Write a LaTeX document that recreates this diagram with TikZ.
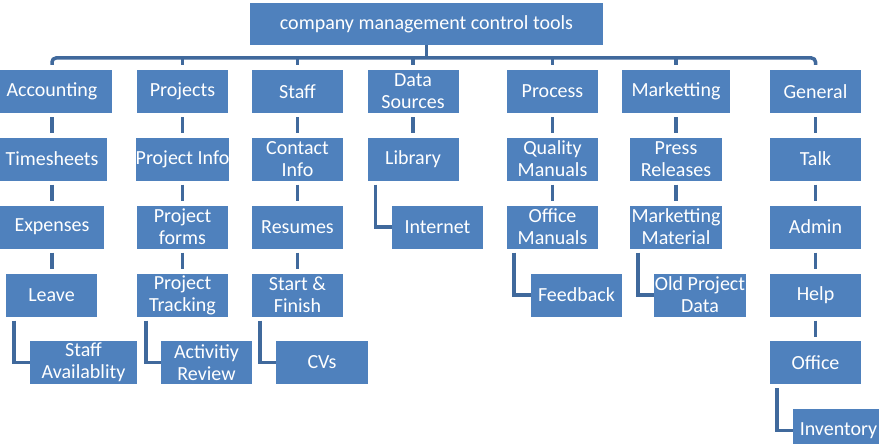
\documentclass[tikz,border=0pt]{standalone}
\usepackage{fontspec}
\setmainfont{Carlito}
\definecolor{boxblue}{HTML}{4F81BD}
\definecolor{lineblue}{HTML}{40699C}
\tikzset{
  box/.style={fill=boxblue, text=white, align=center, inner sep=0pt,
    minimum width=91, minimum height=43,
    font=\fontsize{20}{22}\selectfont},
  link/.style={draw=lineblue, line width=3.5pt}
}
\begin{document}
\begin{tikzpicture}[x=1pt, y=1pt]
  \useasboundingbox (0,0) rectangle (879,-444);
  \clip (0,0) rectangle (879,-444);
  \coordinate (bus) at (0,-58);
  \node[box, minimum width=353, minimum height=42] (top) at (426.5,-24) {company management control tools};
  % first level
  \node[box, minimum width=120] (acc) at (52,-91.5) {Accounting};
  \node[box] (proj) at (182.5,-91.5) {Projects};
  \node[box] (staff) at (297.5,-91.5) {Staff};
  \node[box] (data) at (413,-91.5) {Data\\Sources};
  \node[box] (proc) at (552.5,-91.5) {Process};
  \node[box, minimum width=108] (mark) at (676,-91.5) {Marketting};
  \node[box] (gen) at (815.5,-91.5) {General};
  % second level
  \node[box, minimum width=110] (times) at (52,-159) {Timesheets};
  \node[box] (pinfo) at (182.5,-159) {Project Info};
  \node[box] (cinfo) at (297.5,-159) {Contact\\Info};
  \node[box] (lib) at (413,-159) {Library};
  \node[box] (qman) at (552.5,-159) {Quality\\Manuals};
  \node[box, minimum width=92] (press) at (676,-159) {Press\\Releases};
  \node[box] (talk) at (815.5,-159) {Talk};
  % third level
  \node[box, minimum width=104] (exp) at (52,-227) {Expenses};
  \node[box] (pforms) at (182.5,-227) {Project\\forms};
  \node[box] (resume) at (297.5,-227) {Resumes};
  \node[box] (inet) at (437.5,-227) {Internet};
  \node[box] (oman) at (552.5,-227) {Office\\Manuals};
  \node[box, minimum width=92] (mmat) at (676,-227) {Marketting\\Material};
  \node[box] (admin) at (815.5,-227) {Admin};
  % fourth level
  \node[box] (leave) at (51.5,-295) {Leave};
  \node[box] (ptrack) at (182.5,-295) {Project\\Tracking};
  \node[box] (start) at (297.5,-295) {Start \&\\Finish};
  \node[box] (feed) at (576.5,-295) {Feedback};
  \node[box, minimum width=92] (oldpd) at (700,-295) {Old Project\\Data};
  \node[box] (help) at (815.5,-295) {Help};
  % fifth and sixth level
  \node[box, minimum width=107] (avail) at (83.5,-362.5) {Staff\\Availablity};
  \node[box] (review) at (206.5,-362.5) {Activitiy\\Review};
  \node[box, minimum width=92] (cvs) at (322,-362.5) {CVs};
  \node[box] (office) at (815.5,-362.5) {Office};
  \node[box] (inv) at (838.5,-430.5) {Inventory};

  % bus from the top box
  \draw[link] (top.south) -- (top.south |- bus);
  \draw[link, rounded corners=4pt] ([yshift=5]acc.north) -- (acc.north |- bus)
    -- (gen.north |- bus) -- ([yshift=5]gen.north);
  \draw[link] (proj.north |- bus) -- ([yshift=5]proj.north);
  \draw[link] (staff.north |- bus) -- ([yshift=5]staff.north);
  \draw[link] (data.north |- bus) -- ([yshift=5]data.north);
  \draw[link] (proc.north |- bus) -- ([yshift=5]proc.north);
  \draw[link] (mark.north |- bus) -- ([yshift=5]mark.north);

  % straight drops
  \draw[link] ([yshift=-4]acc.south) -- ([yshift=4]times.north);
  \draw[link] ([yshift=-4]times.south) -- ([yshift=4]exp.north);
  \draw[link] ([yshift=-4]exp.south) -- ([yshift=4]exp.south |- leave.north);
  \draw[link] ([yshift=-4]proj.south) -- ([yshift=4]pinfo.north);
  \draw[link] ([yshift=-4]pinfo.south) -- ([yshift=4]pforms.north);
  \draw[link] ([yshift=-4]pforms.south) -- ([yshift=4]ptrack.north);
  \draw[link] ([yshift=-4]staff.south) -- ([yshift=4]cinfo.north);
  \draw[link] ([yshift=-4]cinfo.south) -- ([yshift=4]resume.north);
  \draw[link] ([yshift=-4]resume.south) -- ([yshift=4]start.north);
  \draw[link] ([yshift=-4]data.south) -- ([yshift=4]lib.north);
  \draw[link] ([yshift=-4]proc.south) -- ([yshift=4]qman.north);
  \draw[link] ([yshift=-4]qman.south) -- ([yshift=4]oman.north);
  \draw[link] ([yshift=-4]mark.south) -- ([yshift=4]press.north);
  \draw[link] ([yshift=-4]press.south) -- ([yshift=4]mmat.north);
  \draw[link] ([yshift=-4]gen.south) -- ([yshift=4]talk.north);
  \draw[link] ([yshift=-4]talk.south) -- ([yshift=4]admin.north);
  \draw[link] ([yshift=-4]admin.south) -- ([yshift=4]help.north);
  \draw[link] ([yshift=-4]help.south) -- ([yshift=4]office.north);

  % elbows to side children
  \draw[link] ([xshift=8,yshift=-4]leave.south west) |- (avail.west);
  \draw[link] ([xshift=9,yshift=-4]ptrack.south west) |- (review.west);
  \draw[link] ([xshift=8,yshift=-4]start.south west) |- (cvs.west);
  \draw[link] ([xshift=8,yshift=-4]lib.south west) |- (inet.west);
  \draw[link] ([xshift=7,yshift=-4]oman.south west) |- (feed.west);
  \draw[link] ([xshift=8,yshift=-4]mmat.south west) |- (oldpd.west);
  \draw[link] ([xshift=7,yshift=-4]office.south west) |- (inv.west);
\end{tikzpicture}
\end{document}
